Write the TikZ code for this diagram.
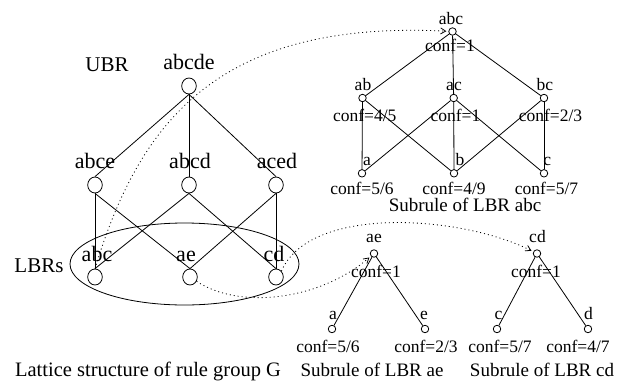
\documentclass[tikz,border=0pt]{standalone}
\usepackage{fontspec}
\setmainfont{Liberation Serif}
\usetikzlibrary{arrows.meta,shapes.geometric}
\begin{document}
\begin{tikzpicture}[x=1pt,y=-1pt,
  big/.style={font=\fontsize{22}{24}\selectfont, anchor=base, inner sep=0pt},
  bigcap/.style={font=\fontsize{21}{24}\selectfont, anchor=base, inner sep=0pt},
  small/.style={font=\fontsize{17.5}{20}\selectfont, anchor=base, inner sep=0pt},
  subcap/.style={font=\fontsize{19}{22}\selectfont, anchor=base, inner sep=0pt},
  maincap/.style={font=\fontsize{20.5}{23}\selectfont, anchor=base, inner sep=0pt},
  bignode/.style={draw, ellipse, minimum width=14.6pt, minimum height=16pt, inner sep=0pt, line width=0.8pt},
  smallnode/.style={draw, circle, minimum size=7.5pt, inner sep=0pt, line width=0.8pt},
  edge/.style={line width=0.8pt},
  link/.style={line width=0.8pt, dash pattern=on 1pt off 3pt, shorten >=2pt, -{Straight Barb[length=5pt,width=6pt]}},
]
\useasboundingbox (0,0) rectangle (625,381);

% ---------- left lattice ----------
\node[bignode] (abcde) at (189,86) {};
\node[bignode] (abce) at (95,185) {};
\node[bignode] (abcd) at (189,185) {};
\node[bignode] (aced) at (276,185) {};
\node[bignode] (abcL) at (95,277) {};
\node[bignode] (aeL) at (190,277) {};
\node[bignode] (cdL) at (276,277) {};

\node[bigcap] (tubr) at (107,71) {UBR};
\node[big] (tabcde) at (189,69) {abcde};
\node[big] (tabce) at (95,168) {abce};
\node[big] (tabcd) at (190,168) {abcd};
\node[big] (taced) at (277,168) {aced};
\node[big] (tabcL) at (97,261) {abc};
\node[big] (taeL) at (186,261) {ae};
\node[big] (tcdL) at (274,261) {cd};
\node[bigcap] (tlbrs) at (39,272) {LBRs};

\node[draw, ellipse, minimum width=229pt, minimum height=82pt, line width=0.8pt] (lbr) at (184.5,264) {};

\draw[edge] (abcde.south) -- (abce.north);
\draw[edge] (abcde.south) -- (abcd.north);
\draw[edge] (abcde.south) -- (aced.north);
\draw[edge] (abce.south) -- (abcL.north);
\draw[edge] (abce.south) -- (aeL.north);
\draw[edge] (abcd.south) -- (abcL.north);
\draw[edge] (abcd.south) -- (cdL.north);
\draw[edge] (aced.south) -- (aeL.north);
\draw[edge] (aced.south) -- (cdL.north);

\node[maincap] (tlat) at (148,376) {Lattice structure of rule group G};

% ---------- subrules of abc ----------
\node[smallnode] (abcR) at (452.5,31.5) {};
\node[smallnode] (ab) at (362.5,98) {};
\node[smallnode] (ac) at (453.7,98) {};
\node[smallnode] (bc) at (544,98) {};
\node[smallnode] (a1) at (362,173.3) {};
\node[smallnode] (b1) at (454,173.3) {};
\node[smallnode] (c1) at (544,173.3) {};

\node[small] (tabcR) at (451,24) {abc};
\node[small] (cabc) at (450,51.7) {conf=1};
\node[small] (tab) at (363,90) {ab};
\node[small] (tac) at (454,90) {ac};
\node[small] (tbc) at (545,90) {bc};
\node[small] (cab) at (364.7,121.7) {conf=4/5};
\node[small] (cac) at (455.5,121.7) {conf=1};
\node[small] (cbc) at (550.5,121.7) {conf=2/3};
\node[small] (ta1) at (367,165) {a};
\node[small] (tb1) at (460,165) {b};
\node[small] (tc1) at (547.3,165) {c};
\node[small] (ca1) at (362,194) {conf=5/6};
\node[small] (cb1) at (454,194) {conf=4/9};
\node[small] (cc1) at (546.5,194) {conf=5/7};
\node[subcap] (sabc) at (465,211.7) {Subrule of LBR abc};

\draw[edge] (abcR) -- (ab);
\draw[edge] (abcR) -- (ac);
\draw[edge] (abcR) -- (bc);
\draw[edge] (ab) -- (a1);
\draw[edge] (ab) -- (b1);
\draw[edge] (ac) -- (a1);
\draw[edge] (ac) -- (b1);
\draw[edge] (ac) -- (c1);
\draw[edge] (bc) -- (b1);
\draw[edge] (bc) -- (c1);

% ---------- subrules of ae ----------
\node[smallnode] (aeR) at (374,253.5) {};
\node[smallnode] (a2) at (332,329) {};
\node[smallnode] (e2) at (425,329) {};
\node[small] (taeR) at (374,242) {ae};
\node[small] (cae) at (376,277) {conf=1};
\node[small] (ta2) at (333,319) {a};
\node[small] (te2) at (424,319) {e};
\node[small] (ca2) at (328,352) {conf=5/6};
\node[small] (ce2) at (426,352) {conf=2/3};
\node[subcap] (sae) at (372,376) {Subrule of LBR ae};
\draw[edge] (aeR) -- (a2);
\draw[edge] (aeR) -- (e2);

% ---------- subrules of cd ----------
\node[smallnode] (cdR) at (537,253.5) {};
\node[smallnode] (c3) at (497,329) {};
\node[smallnode] (d3) at (588,329) {};
\node[small] (tcdR) at (537.5,242) {cd};
\node[small] (ccd) at (536,277) {conf=1};
\node[small] (tc3) at (498.5,319) {c};
\node[small] (td3) at (588.5,319) {d};
\node[small] (cc3) at (500,352) {conf=5/7};
\node[small] (cd3) at (578,352) {conf=4/7};
\node[subcap] (scd) at (542,376) {Subrule of LBR cd};
\draw[edge] (cdR) -- (c3);
\draw[edge] (cdR) -- (d3);

% ---------- dotted links ----------
\draw[link] (abcL.north) .. controls (140,120) and (220,20) .. (abcR);
\draw[link] (aeL) .. controls (240,310) and (320,300) .. (aeR);
\draw[link] (cdL.north east) .. controls (310,205) and (460,215) .. (cdR);
\end{tikzpicture}
\end{document}
